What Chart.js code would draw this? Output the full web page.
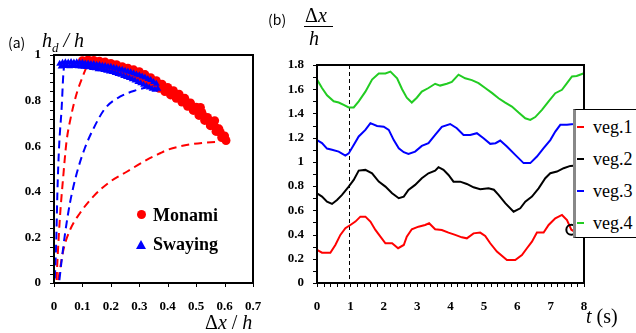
<!DOCTYPE html>
<html>
<head>
<meta charset="utf-8">
<script src="https://cdn.jsdelivr.net/npm/chart.js@4.4.0/dist/chart.umd.min.js"></script>
<style>
  body { margin: 0; width: 636px; height: 333px; background: #fff; position: relative; overflow: hidden; font-family: 'Liberation Serif', serif; color: #000; }
  .pane { position: absolute; top: 0; }
  .txt { position: absolute; white-space: nowrap; line-height: 1; }
  .it { font-style: italic; }
  .tag { font-family: 'Noto Sans CJK JP', 'Noto Sans', sans-serif; font-size: 14px; }
  .big { font-size: 20px; }
  .leg { font-weight: bold; font-size: 18px; }
  #legB { position: absolute; left: 573px; top: 109px; width: 61px; height: 127px; background: #fff; border: 1px solid #000; border-left: 3px solid #888; }
  #legB div { position: absolute; left: 17px; font-size: 18px; line-height: 1; }
  #legB span { position: absolute; left: 1px; width: 7px; height: 2px; }
</style>
</head>
<body>
<div class="pane" style="left:0;width:270px;height:333px"><canvas id="chartA" width="270" height="333"></canvas></div>
<div class="pane" style="left:270px;width:366px;height:333px"><canvas id="chartB" width="366" height="333"></canvas></div>

<!-- panel (a) texts -->
<div class="txt tag" style="left:8px;top:35px">(a)</div>
<div class="txt big it" style="left:42px;top:30px">h<sub style="font-size:13px">d</sub> / h</div>
<div class="txt big" style="left:205px;top:312px">Δ<span class="it">x</span> / <span class="it">h</span></div>
<div class="txt leg" style="left:153px;top:206px">Monami</div>
<div class="txt leg" style="left:153px;top:235px">Swaying</div>
<div style="position:absolute;left:137px;top:210px;width:9px;height:9px;border-radius:50%;background:#f00"></div>
<div style="position:absolute;left:136px;top:240px;width:0;height:0;border-left:5px solid transparent;border-right:5px solid transparent;border-bottom:9px solid #00f"></div>

<!-- panel (b) texts -->
<div class="txt tag" style="left:268px;top:12px">(b)</div>
<div class="txt big" style="left:305px;top:5px">Δ<span class="it">x</span></div>
<div style="position:absolute;left:304px;top:26px;width:29px;height:1px;background:#000"></div>
<div class="txt big it" style="left:309px;top:28px">h</div>
<div class="txt big" style="left:586px;top:306px"><span class="it">t</span> (s)</div>

<div id="legB">
  <span style="top:16px;background:#f00"></span><div style="top:8px">veg.1</div>
  <span style="top:48px;background:#000"></span><div style="top:40px">veg.2</div>
  <span style="top:80px;background:#00f"></span><div style="top:72px">veg.3</div>
  <span style="top:112px;background:#22cc22"></span><div style="top:104px">veg.4</div>
</div>

<script>
// ---------- (a) drag height vs. deflection
// monami points: upper edge, lower edge and middle of the band
const monamiX = [
  0.10, 0.12, 0.14, 0.16, 0.18, 0.20, 0.22, 0.24, 0.26, 0.28, 0.30, 0.32, 0.34, 0.36, 0.38, 0.40, 0.42, 0.44, 0.46, 0.48,
  0.50, 0.52, 0.54, 0.56, 0.58, 0.60,
  0.11, 0.13, 0.15, 0.17, 0.19, 0.21, 0.23, 0.25, 0.27, 0.29, 0.31, 0.33, 0.35, 0.37, 0.39, 0.41, 0.43, 0.45, 0.47, 0.49,
  0.51, 0.53, 0.55, 0.57, 0.59, 0.605,
  0.305, 0.325, 0.345, 0.365, 0.385, 0.405, 0.425, 0.445, 0.465, 0.485, 0.505, 0.515, 0.525, 0.545, 0.565, 0.565, 0.585, 0.595];
const monamiY = [
  0.975, 0.978, 0.976, 0.973, 0.969, 0.963, 0.957, 0.949, 0.942, 0.935, 0.927, 0.914, 0.900, 0.887, 0.872, 0.858, 0.843, 0.828, 0.810, 0.790,
  0.771, 0.748, 0.726, 0.702, 0.676, 0.645,
  0.958, 0.957, 0.954, 0.950, 0.944, 0.937, 0.930, 0.922, 0.914, 0.905, 0.897, 0.882, 0.868, 0.854, 0.840, 0.825, 0.810, 0.794, 0.775, 0.757,
  0.735, 0.713, 0.690, 0.665, 0.638, 0.625,
  0.912, 0.899, 0.885, 0.872, 0.857, 0.842, 0.826, 0.811, 0.793, 0.775, 0.754, 0.770, 0.733, 0.710, 0.688, 0.712, 0.660, 0.640];

// swaying points: upper and lower edge of the band
const swayX = [
  0.02, 0.03, 0.04, 0.05, 0.06, 0.07, 0.08, 0.09, 0.10, 0.11, 0.12, 0.13, 0.14, 0.15, 0.16, 0.17, 0.18, 0.19, 0.20, 0.21,
  0.22, 0.23, 0.24, 0.25, 0.26, 0.27, 0.28, 0.29, 0.30, 0.31, 0.32, 0.33, 0.34, 0.35, 0.36,
  0.025, 0.035, 0.045, 0.055, 0.065, 0.075, 0.085, 0.095, 0.105, 0.115, 0.125, 0.135, 0.145, 0.155, 0.165, 0.175, 0.185, 0.195,
  0.205, 0.215, 0.225, 0.235, 0.245, 0.255, 0.265, 0.275, 0.285, 0.295, 0.305, 0.315, 0.325, 0.335, 0.345, 0.355, 0.365];
const swayY = [
  0.962, 0.966, 0.968, 0.967, 0.969, 0.967, 0.968, 0.966, 0.966, 0.963, 0.963, 0.960, 0.960, 0.957, 0.956, 0.953, 0.952, 0.949, 0.948, 0.944,
  0.942, 0.938, 0.935, 0.931, 0.928, 0.924, 0.920, 0.915, 0.911, 0.906, 0.901, 0.895, 0.890, 0.882, 0.874,
  0.950, 0.952, 0.953, 0.951, 0.953, 0.952, 0.951, 0.950, 0.949, 0.947, 0.946, 0.943, 0.942, 0.938, 0.937, 0.934, 0.931, 0.928,
  0.925, 0.921, 0.917, 0.913, 0.908, 0.904, 0.899, 0.894, 0.888, 0.882, 0.876, 0.870, 0.864, 0.858, 0.852, 0.848, 0.852];

// dashed reference curves
const blueSteepX = [0.003, 0.008, 0.012, 0.018, 0.027, 0.033, 0.036];
const blueSteepY = [0.02, 0.19, 0.40, 0.60, 0.77, 0.92, 0.955];
const blueWideX = [0.019, 0.027, 0.039, 0.056, 0.08, 0.108, 0.14, 0.18, 0.232, 0.29, 0.338];
const blueWideY = [0.013, 0.10, 0.218, 0.35, 0.481, 0.59, 0.68, 0.766, 0.817, 0.846, 0.861];
const redSteepX = [0.009, 0.013, 0.021, 0.032, 0.044, 0.058, 0.08, 0.103, 0.117];
const redSteepY = [0.013, 0.12, 0.29, 0.46, 0.62, 0.72, 0.832, 0.912, 0.956];
const redWideX = [0.015, 0.033, 0.056, 0.091, 0.138, 0.197, 0.256, 0.326, 0.373, 0.397, 0.49, 0.584];
const redWideY = [0.013, 0.145, 0.232, 0.306, 0.379, 0.444, 0.488, 0.54, 0.569, 0.583, 0.61, 0.62];

// ---------- (b) deflection time series
const veg1T = [0, 0.15, 0.40, 0.55, 0.70, 0.85, 1.00, 1.15, 1.30, 1.45, 1.60, 1.75, 1.90, 2.05, 2.25, 2.43, 2.60, 2.69, 2.84, 3.04,
  3.24, 3.36, 3.54, 3.74, 3.94, 4.14, 4.34, 4.49, 4.69, 4.89, 5.04, 5.19, 5.39, 5.69, 5.94, 6.14, 6.29, 6.44, 6.59, 6.79, 6.94,
  7.14, 7.34, 7.49, 7.62, 7.80, 8.00];
const veg1 = [0.273, 0.25, 0.25, 0.314, 0.397, 0.452, 0.479, 0.507, 0.548, 0.548, 0.507, 0.438, 0.383, 0.328, 0.328, 0.287, 0.314, 0.383, 0.444, 0.465,
  0.479, 0.493, 0.444, 0.438, 0.416, 0.397, 0.377, 0.369, 0.41, 0.416, 0.388, 0.328, 0.259, 0.19, 0.19, 0.231, 0.287, 0.341, 0.416, 0.416, 0.479,
  0.534, 0.562, 0.52, 0.44, 0.41, 0.38];

const veg2T = [0, 0.15, 0.30, 0.45, 0.60, 0.75, 0.95, 1.10, 1.25, 1.45, 1.65, 1.85, 2.05, 2.25, 2.45, 2.60, 2.74, 2.94, 3.14, 3.34,
  3.54, 3.64, 3.79, 3.94, 4.09, 4.29, 4.49, 4.69, 4.89, 5.14, 5.30, 5.44, 5.64, 5.89, 6.09, 6.24, 6.44, 6.64, 6.84, 6.99, 7.19,
  7.39, 7.59, 7.80, 8.00];
const veg2 = [0.741, 0.713, 0.672, 0.653, 0.686, 0.727, 0.796, 0.851, 0.928, 0.934, 0.906, 0.837, 0.796, 0.741, 0.70, 0.713, 0.769, 0.81, 0.865, 0.906,
  0.928, 0.956, 0.934, 0.892, 0.837, 0.837, 0.818, 0.79, 0.774, 0.782, 0.77, 0.727, 0.659, 0.589, 0.617, 0.672, 0.713, 0.782, 0.865, 0.906, 0.92,
  0.948, 0.967, 0.97, 0.98];

const veg3T = [0, 0.15, 0.30, 0.45, 0.65, 0.85, 0.95, 1.10, 1.25, 1.45, 1.60, 1.80, 2.00, 2.15, 2.30, 2.45, 2.60, 2.74, 2.94, 3.14,
  3.34, 3.54, 3.74, 3.99, 4.19, 4.39, 4.59, 4.79, 4.99, 5.19, 5.35, 5.49, 5.69, 5.94, 6.19, 6.39, 6.59, 6.79, 6.99, 7.14, 7.29,
  7.49, 7.69, 7.85, 8.00];
const veg3 = [1.18, 1.155, 1.11, 1.10, 1.085, 1.052, 1.07, 1.14, 1.21, 1.264, 1.32, 1.297, 1.29, 1.264, 1.18, 1.113, 1.08, 1.066, 1.085, 1.132,
  1.154, 1.223, 1.29, 1.313, 1.278, 1.223, 1.223, 1.237, 1.195, 1.149, 1.154, 1.176, 1.127, 1.058, 0.99, 0.99, 1.044, 1.113, 1.18, 1.25, 1.306,
  1.306, 1.313, 1.32, 1.33];

const veg4T = [0, 0.15, 0.30, 0.50, 0.65, 0.80, 0.95, 1.10, 1.25, 1.45, 1.65, 1.85, 2.05, 2.20, 2.40, 2.55, 2.69, 2.84, 2.99, 3.14,
  3.34, 3.54, 3.69, 3.89, 4.04, 4.24, 4.44, 4.64, 4.84, 5.04, 5.24, 5.44, 5.64, 5.84, 6.04, 6.24, 6.39, 6.54, 6.74, 6.94, 7.14,
  7.34, 7.49, 7.64, 7.78, 7.98];
const veg4 = [1.68, 1.61, 1.55, 1.50, 1.49, 1.47, 1.45, 1.45, 1.50, 1.58, 1.68, 1.73, 1.73, 1.745, 1.69, 1.60, 1.53, 1.49, 1.53, 1.58,
  1.61, 1.645, 1.63, 1.645, 1.66, 1.72, 1.69, 1.675, 1.65, 1.61, 1.57, 1.525, 1.49, 1.457, 1.407, 1.36, 1.347, 1.37, 1.43, 1.50, 1.567,
  1.595, 1.65, 1.705, 1.71, 1.73];

// circled point on veg.1 and the dashed time marker
const markT = [7.62];
const markV = [0.44];
const markLineT = 0.95;

const GREEN = '#22cc22';
const pts = (xs, ys) => xs.map((v, i) => ({ x: v, y: ys[i] }));
const fmt = v => String(+v.toFixed(1));

// box frame, outward tick marks (major + minor) and optional vertical marker
const framePlugin = {
  id: 'frame',
  beforeDatasetsDraw(chart, args, opts) {
    if (opts.vline === undefined) return;
    const { ctx, chartArea: a, scales: { x } } = chart;
    const px = Math.round(x.getPixelForValue(opts.vline)) + 0.5;
    ctx.save();
    ctx.strokeStyle = '#000';
    ctx.lineWidth = 1;
    ctx.setLineDash([4, 3]);
    ctx.beginPath(); ctx.moveTo(px, a.top); ctx.lineTo(px, a.bottom); ctx.stroke();
    ctx.restore();
  },
  afterDraw(chart, args, opts) {
    const { ctx, chartArea: a, scales: { x, y } } = chart;
    ctx.save();
    ctx.strokeStyle = '#000';
    ctx.lineWidth = 1;
    const nx = Math.round((x.max - x.min) / opts.xStep);
    for (let i = 0; i <= nx; i++) {
      const px = Math.round(x.getPixelForValue(x.min + i * opts.xStep)) + 0.5;
      ctx.beginPath(); ctx.moveTo(px, a.bottom); ctx.lineTo(px, a.bottom + 4); ctx.stroke();
    }
    const ny = Math.round((y.max - y.min) / opts.yStep);
    for (let i = 0; i <= ny; i++) {
      const py = Math.round(y.getPixelForValue(y.min + i * opts.yStep)) + 0.5;
      ctx.beginPath(); ctx.moveTo(a.left - 4, py); ctx.lineTo(a.left, py); ctx.stroke();
    }
    ctx.lineWidth = 2;
    ctx.strokeRect(a.left, a.top, a.right - a.left, a.bottom - a.top);
    ctx.restore();
  }
};

const tickFont = { family: "'Liberation Serif', 'Times New Roman', serif", weight: 'bold', size: 13 };

const dashed = (xs, ys, color) => ({
  data: pts(xs, ys),
  showLine: true,
  pointRadius: 0,
  borderColor: color,
  borderWidth: 2,
  borderDash: [8, 5],
  cubicInterpolationMode: 'monotone',
  order: 2
});

const createChartA = () => {
  const ctx = document.getElementById('chartA').getContext('2d');
  const config = {
    type: 'scatter',
    data: {
      datasets: [
        { label: 'Swaying', data: pts(swayX, swayY), pointStyle: 'triangle', pointRadius: 4,
          backgroundColor: '#0000ff', borderColor: '#0000ff', borderWidth: 0, order: 0 },
        { label: 'Monami', data: pts(monamiX, monamiY), pointStyle: 'circle', pointRadius: 4.5,
          backgroundColor: '#ff0000', borderColor: '#ff0000', borderWidth: 0, order: 1 },
        dashed(blueSteepX, blueSteepY, '#0000ff'),
        dashed(blueWideX, blueWideY, '#0000ff'),
        dashed(redSteepX, redSteepY, '#ff0000'),
        dashed(redWideX, redWideY, '#ff0000')
      ]
    },
    options: {
      responsive: false,
      animation: false,
      devicePixelRatio: 1,
      layout: { padding: { top: 55, right: 17, left: 0, bottom: 0 } },
      plugins: {
        legend: { display: false },
        tooltip: { enabled: false },
        frame: { xStep: 0.1, yStep: 0.04 }
      },
      scales: {
        x: {
          type: 'linear', min: 0, max: 0.7,
          grid: { display: false }, border: { display: false },
          ticks: { stepSize: 0.1, color: '#000', font: tickFont, padding: 8, maxRotation: 0, callback: fmt },
          afterFit: s => { s.height = 50; }
        },
        y: {
          min: 0, max: 1,
          grid: { display: false }, border: { display: false },
          ticks: { stepSize: 0.2, color: '#000', font: tickFont, padding: 5, callback: fmt },
          afterFit: s => { s.width = 54; }
        }
      }
    },
    plugins: [framePlugin]
  };
  new Chart(ctx, config);
};

const line = (xs, ys, color) => ({
  data: pts(xs, ys), showLine: true, pointRadius: 0, borderColor: color, borderWidth: 2, order: 1
});

const createChartB = () => {
  const ctx = document.getElementById('chartB').getContext('2d');
  const config = {
    type: 'scatter',
    data: {
      datasets: [
        { data: pts(markT, markV), pointStyle: 'circle', pointRadius: 5, backgroundColor: 'rgba(0,0,0,0)',
          borderColor: '#000', borderWidth: 2, order: 0 },
        line(veg1T, veg1, '#ff0000'),
        line(veg2T, veg2, '#000000'),
        line(veg3T, veg3, '#0000ff'),
        line(veg4T, veg4, GREEN)
      ]
    },
    options: {
      responsive: false,
      animation: false,
      devicePixelRatio: 1,
      layout: { padding: { top: 65, right: 52, left: 0, bottom: 0 } },
      plugins: {
        legend: { display: false },
        tooltip: { enabled: false },
        frame: { xStep: 0.2, yStep: 0.1, vline: markLineT }
      },
      scales: {
        x: {
          type: 'linear', min: 0, max: 8,
          grid: { display: false }, border: { display: false },
          ticks: { stepSize: 1, color: '#000', font: tickFont, padding: 8, maxRotation: 0 },
          afterFit: s => { s.height = 50; }
        },
        y: {
          min: 0, max: 1.8,
          grid: { display: false }, border: { display: false },
          ticks: { stepSize: 0.2, color: '#000', font: tickFont, padding: 5, callback: fmt },
          afterFit: s => { s.width = 47; }
        }
      }
    },
    plugins: [framePlugin]
  };
  new Chart(ctx, config);
};

document.addEventListener('DOMContentLoaded', () => {
  createChartA();
  createChartB();
});
</script>
</body>
</html>
